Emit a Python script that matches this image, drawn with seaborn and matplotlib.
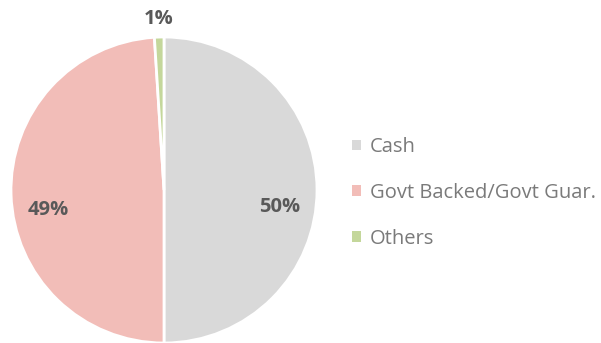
import matplotlib
matplotlib.use("Agg")
import matplotlib.pyplot as plt
import seaborn as sns
import numpy as np

categories = ["Cash", "Govt Backed/Govt Guar.", "Others"]
shares = [50, 49, 1]
colors = ["#D9D9D9", "#F2BDB8", "#C4D79B"]

sns.set_theme(style="white")
plt.rcParams["font.family"] = ["Open Sans", "DejaVu Sans"]

fig = plt.figure(figsize=(6.01, 3.43), dpi=100)
ax = fig.add_axes([11 / 601, 0, 306 / 601, 306 / 343])

wedges, _ = ax.pie(
    shares,
    colors=colors,
    startangle=90,
    counterclock=False,
    radius=1,
    wedgeprops=dict(edgecolor="white", linewidth=2),
)
ax.set_xlim(-1, 1)
ax.set_ylim(-1, 1)
ax.set_aspect("equal")

# percentage labels: inside for the big slices, outside for the sliver
for w, v in zip(wedges, shares):
    mid = np.deg2rad((w.theta1 + w.theta2) / 2)
    if v >= 5:
        r, dy = 0.755, -0.11
    else:
        r, dy = 1.12, 0.0
    ax.text(r * np.cos(mid), r * np.sin(mid) + dy, f"{v}%",
            ha="center", va="center", fontsize=14.5, fontweight="bold",
            color="#595959", clip_on=False)

leg = fig.legend(
    wedges, categories,
    loc="center left", bbox_to_anchor=(352 / 601, 1 - 193 / 343),
    frameon=False, fontsize=14.5, labelcolor="#7a7a7a",
    handlelength=0.45, handleheight=0.45, handletextpad=0.45,
    labelspacing=1.28, borderpad=0, borderaxespad=0,
)
for h in leg.legend_handles:
    h.set_edgecolor("none")

fig.savefig("out.png", dpi=100)
